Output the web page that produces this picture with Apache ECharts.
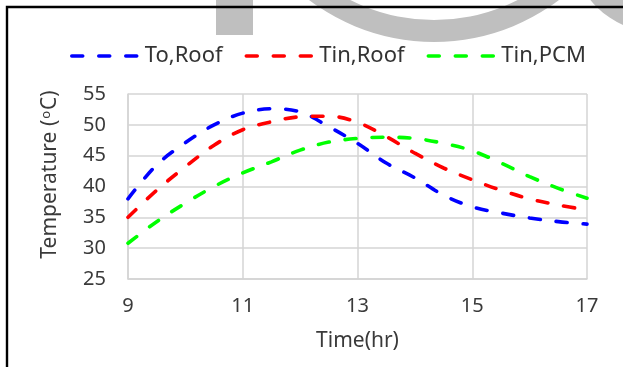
<!DOCTYPE html>
<html>
<head>
<meta charset="utf-8">
<script src="https://cdn.jsdelivr.net/npm/echarts@6/dist/echarts.min.js"></script>
<style>
html,body{margin:0;padding:0;background:#fff;}
#chart{width:623px;height:367px;}
</style>
</head>
<body>
<div id="chart"></div>
<script>
const hours = [9, 9.5, 10, 10.5, 11, 11.5, 12, 12.5, 13, 13.5, 14, 14.5, 15, 15.5, 16, 16.5, 17];
const toRoof = [38.0, 43.5, 47.1, 50.0, 51.9, 52.6, 52.1, 49.7, 47.0, 43.8, 41.4, 38.6, 36.7, 35.7, 34.9, 34.3, 33.9];
const tinRoof = [35.0, 39.4, 43.2, 46.7, 49.2, 50.5, 51.3, 51.4, 50.4, 48.1, 45.4, 43.0, 41.1, 39.4, 38.0, 37.0, 36.2];
const tinPCM = [30.8, 34.3, 37.3, 40.0, 42.2, 44.0, 45.9, 47.2, 47.8, 48.0, 47.8, 47.0, 45.8, 43.8, 41.6, 39.7, 38.1];
const seriesNames = ['To,Roof', 'Tin,Roof', 'Tin,PCM'];
const seriesColors = ['#0000ff', '#ff0000', '#00ff00'];
const xTicks = { min: 9, max: 17, interval: 2 };
const yTicks = { min: 25, max: 55, interval: 5 };

const allValues = [toRoof, tinRoof, tinPCM];
const FONT = 'Noto Sans';
const gridColor = '#d4d4d4';
const textColor = '#3a3a3a';
const dash = [11, 16];

const chart = echarts.init(document.getElementById('chart'), null, { renderer: 'canvas' });
chart.setOption({
  animation: false,
  backgroundColor: '#ffffff',
  textStyle: { fontFamily: FONT },
  graphic: [
    { type: 'rect', z: 0, shape: { x: 216, y: 0, width: 37, height: 35 }, style: { fill: '#bfbfbf' } },
    { type: 'ring', z: 0, shape: { cx: 434, cy: -165, r: 207, r0: 185 }, style: { fill: '#bfbfbf' } },
    { type: 'ring', z: 0, shape: { cx: 660, cy: -57, r: 90, r0: 65 }, style: { fill: '#bfbfbf' } },
    { type: 'rect', z: 10, shape: { x: 7, y: 7, width: 800, height: 600 }, style: { fill: null, stroke: '#000', lineWidth: 2.4 } }
  ],
  legend: {
    left: 65,
    top: 40,
    itemWidth: 68,
    itemHeight: 14,
    itemGap: 22,
    itemStyle: { opacity: 0 },
    lineStyle: { width: 3.5, type: dash, cap: 'round' },
    textStyle: { fontFamily: FONT, fontSize: 22, color: '#333' },
    data: seriesNames
  },
  grid: { left: 128, right: 36, top: 94, bottom: 88, containLabel: false },
  xAxis: {
    type: 'value',
    min: xTicks.min, max: xTicks.max, interval: xTicks.interval,
    name: 'Time(hr)',
    nameLocation: 'middle',
    nameGap: 52,
    nameTextStyle: { fontFamily: FONT, fontSize: 21, color: textColor },
    axisLine: { show: true, lineStyle: { color: gridColor, width: 1.5 } },
    axisTick: { show: false },
    axisLabel: { fontFamily: FONT, fontSize: 20, color: textColor, margin: 17 },
    splitLine: { show: true, lineStyle: { color: gridColor, width: 1.5 } }
  },
  yAxis: {
    type: 'value',
    min: yTicks.min, max: yTicks.max, interval: yTicks.interval,
    name: 'Temperature ({sup|o}C)',
    nameLocation: 'middle',
    nameGap: 67,
    nameTextStyle: {
      fontFamily: FONT, fontSize: 21, color: textColor,
      padding: [0, 0, 0, 24],
      rich: { sup: { fontFamily: FONT, fontSize: 13, color: textColor, verticalAlign: 'top', padding: [0, 1, 0, 1] } }
    },
    axisLine: { show: true, lineStyle: { color: gridColor, width: 1.5 } },
    axisTick: { show: false },
    axisLabel: { fontFamily: FONT, fontSize: 20, color: textColor, margin: 22 },
    splitLine: { show: true, lineStyle: { color: gridColor, width: 1.5 } }
  },
  series: seriesNames.map((name, k) => ({
    name: name,
    type: 'line',
    smooth: 0.35,
    symbol: 'none',
    showSymbol: false,
    data: hours.map((h, i) => [h, allValues[k][i]]),
    itemStyle: { color: seriesColors[k] },
    lineStyle: { color: seriesColors[k], width: 3.6, type: dash, cap: 'round' }
  }))
});
</script>
</body>
</html>
